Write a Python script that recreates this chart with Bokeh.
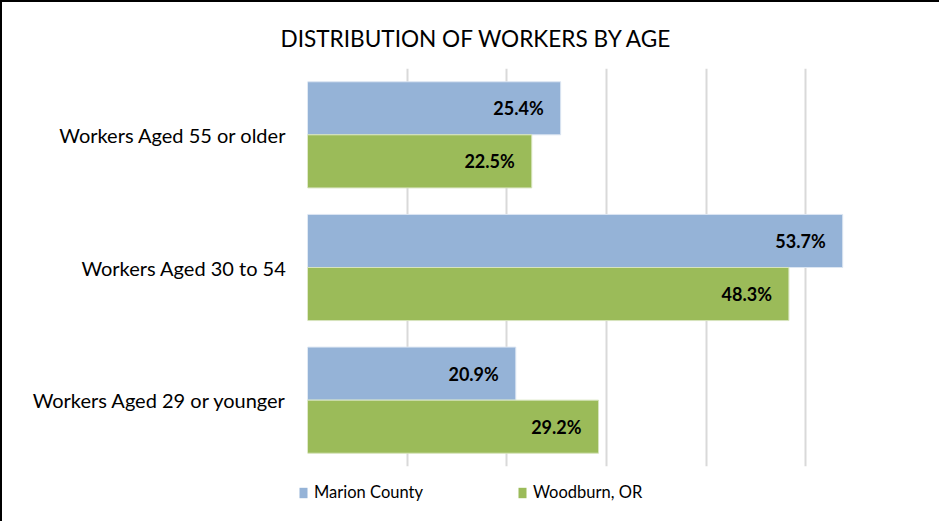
from bokeh.plotting import figure
from bokeh.layouts import column
from bokeh.models import ColumnDataSource, FactorRange, Range1d, Legend, LegendItem, SingleIntervalTicker
from bokeh.transform import dodge
from bokeh.core.properties import value
from bokeh.embed import file_html
from bokeh.resources import INLINE

categories = ["Workers Aged 29 or younger", "Workers Aged 30 to 54", "Workers Aged 55 or older"]
marion = [20.9, 53.7, 25.4]
woodburn = [29.2, 48.3, 22.5]
series_names = ["Marion County", "Woodburn, OR"]
colors = ["#95B3D7", "#9BBB59"]
title_text = "DISTRIBUTION OF WORKERS BY AGE"

FONT = "Lato"

src = ColumnDataSource(dict(
    cat=categories,
    marion=marion,
    woodburn=woodburn,
    marion_lbl=[f"{v:.1f}%" for v in marion],
    woodburn_lbl=[f"{v:.1f}%" for v in woodburn],
))

p = figure(
    width=937, height=470,
    y_range=FactorRange(*categories),
    x_range=Range1d(0, 60),
    output_backend="svg", toolbar_location=None,
    min_border_left=305, min_border_right=34,
    min_border_top=66, min_border_bottom=6,
)

p.title.text = title_text
p.title.align = "left"
p.title.offset = -27
p.title.vertical_align = "top"
p.title.text_font = FONT
p.title.text_font_size = "22.6px"
p.title.text_font_style = "normal"
p.title.text_color = "#000000"
p.title.standoff = 29

r1 = p.hbar(y=dodge("cat", 0.2, range=p.y_range), right="marion", height=0.4, left=0,
            source=src, fill_color=colors[0], line_color="#DCE6F2", line_width=1)
r2 = p.hbar(y=dodge("cat", -0.2, range=p.y_range), right="woodburn", height=0.4, left=0,
            source=src, fill_color=colors[1], line_color="#D7E4BD", line_width=1)

p.text(x="marion", y=dodge("cat", 0.2, range=p.y_range), text="marion_lbl", source=src,
       x_offset=-17, text_align="right", text_baseline="middle",
       text_font=value(FONT), text_font_size="18px", text_font_style="bold", text_color="#000000")
p.text(x="woodburn", y=dodge("cat", -0.2, range=p.y_range), text="woodburn_lbl", source=src,
       x_offset=-17, text_align="right", text_baseline="middle",
       text_font=value(FONT), text_font_size="18px", text_font_style="bold", text_color="#000000")

p.xaxis.visible = False
p.xaxis.ticker = SingleIntervalTicker(interval=10)
p.xgrid.ticker = SingleIntervalTicker(interval=10)
p.xgrid.grid_line_color = "#D9D9D9"
p.xgrid.grid_line_width = 2
p.ygrid.grid_line_color = None

p.yaxis.axis_line_color = None
p.yaxis.major_tick_line_color = None
p.yaxis.minor_tick_line_color = None
p.yaxis.major_label_standoff = 15
p.yaxis.major_label_text_font = FONT
p.yaxis.major_label_text_font_size = "20px"
p.yaxis.major_label_text_color = "#000000"
p.outline_line_color = None

# legend strip
p2 = figure(width=937, height=49, x_range=Range1d(0, 1), y_range=Range1d(0, 1),
            output_backend="svg", toolbar_location=None,
            min_border_left=0, min_border_right=0, min_border_top=0, min_border_bottom=0)
legend_x = -11
if "frame_align" in p2.properties():
    p2.frame_align = False
    legend_x = 296
p2.axis.visible = False
p2.grid.visible = False
p2.outline_line_color = None
l1 = p2.hbar(y=0.5, left=0, right=0, height=0.5, source=src, fill_color=colors[0], line_color=None)
l2 = p2.hbar(y=0.5, left=0, right=0, height=0.5, source=src, fill_color=colors[1], line_color=None)
lg = Legend(items=[LegendItem(label=n, renderers=[r]) for n, r in zip(series_names, [l1, l2])],
            location=(legend_x, 19), orientation="horizontal", margin=0, padding=0, spacing=94,
            glyph_width=10, glyph_height=13, label_standoff=6,
            label_text_font=FONT, label_text_font_size="16.5px", label_text_color="#000000",
            border_line_color=None, background_fill_alpha=0)
p2.add_layout(lg, "center")

layout = column(p, p2, spacing=0)
layout.styles = {"border-left": "2px solid black", "border-top": "2px solid black"}

open("out.html", "w").write(file_html(layout, INLINE))
